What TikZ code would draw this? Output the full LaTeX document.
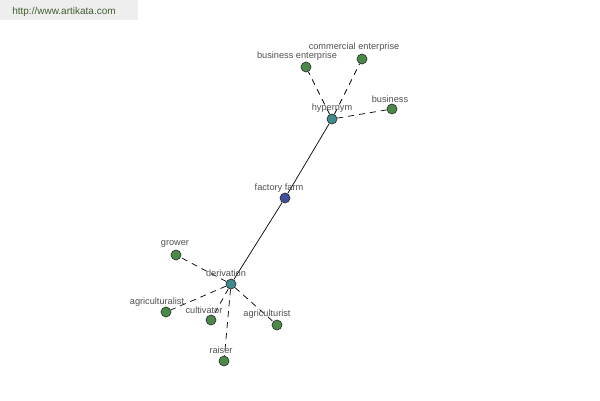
\documentclass[tikz,border=0pt]{standalone}
\usepackage{fontspec}
\setmainfont{Liberation Sans}
\definecolor{leafgreen}{HTML}{4A8A48}
\definecolor{hubteal}{HTML}{3E8A8C}
\definecolor{rootblue}{HTML}{3F4FA0}
\definecolor{lblgray}{HTML}{505050}
\definecolor{urlgreen}{HTML}{3F5F2F}
\definecolor{urlback}{HTML}{EEEEEE}
\tikzset{
  dot/.style={circle,draw=black!80,line width=0.7pt,inner sep=0pt,minimum size=10pt},
  leaf/.style={dot,fill=leafgreen},
  hub/.style={dot,fill=hubteal},
  root/.style={dot,fill=rootblue},
  lbl/.style={text=lblgray,font=\fontsize{9.2}{10}\selectfont,inner sep=0pt},
  rel/.style={line width=0.7pt,dash pattern=on 6pt off 5pt},
  link/.style={line width=0.7pt}
}
\begin{document}
\begin{tikzpicture}[x=1pt,y=-1pt]
        \useasboundingbox (0,0) rectangle (600,400);
        \fill[urlback] (0,0) rectangle (138,20);
        \node[text=urlgreen,font=\fontsize{10}{12}\selectfont,inner sep=0pt] (url) at (64,12) {http://www.artikata.com};

        \node[root] (farm) at (285,198) {};
        \node[hub] (hypernym) at (332,119) {};
        \node[hub] (derivation) at (231,284) {};

        \node[leaf] (busent) at (306,67) {};
        \node[leaf] (comment) at (362,59) {};
        \node[leaf] (business) at (392,109) {};
        \node[leaf] (grower) at (176,255) {};
        \node[leaf] (agrist) at (166,312) {};
        \node[leaf] (cultivator) at (211,320) {};
        \node[leaf] (agrurist) at (277,325) {};
        \node[leaf] (raiser) at (224,361) {};

        \draw[link] (farm) -- (hypernym);
        \draw[link] (farm) -- (derivation);

        \draw[rel] (hypernym) -- (busent);
        \draw[rel] (hypernym) -- (comment);
        \draw[rel] (hypernym) -- (business);
        \draw[rel] (derivation) -- (grower);
        \draw[rel] (derivation) -- (agrist);
        \draw[rel] (derivation) -- (cultivator);
        \draw[rel] (derivation) -- (agrurist);
        \draw[rel] (derivation) -- (raiser);

        \node[lbl] (l-farm) at (279,188) {factory farm};
        \node[lbl] (l-hypernym) at (332,108) {hypernym};
        \node[lbl] (l-derivation) at (226,273) {derivation};
        \node[lbl] (l-busent) at (297,56) {business enterprise};
        \node[lbl] (l-comment) at (354,47) {commercial enterprise};
        \node[lbl] (l-business) at (390,99) {business};
        \node[lbl] (l-grower) at (175,244) {grower};
        \node[lbl] (l-agrist) at (157,302) {agriculturalist};
        \node[lbl] (l-cultivator) at (204,310) {cultivator};
        \node[lbl] (l-agrurist) at (267,314) {agriculturist};
        \node[lbl] (l-raiser) at (221,350) {raiser};
\end{tikzpicture}
\end{document}
